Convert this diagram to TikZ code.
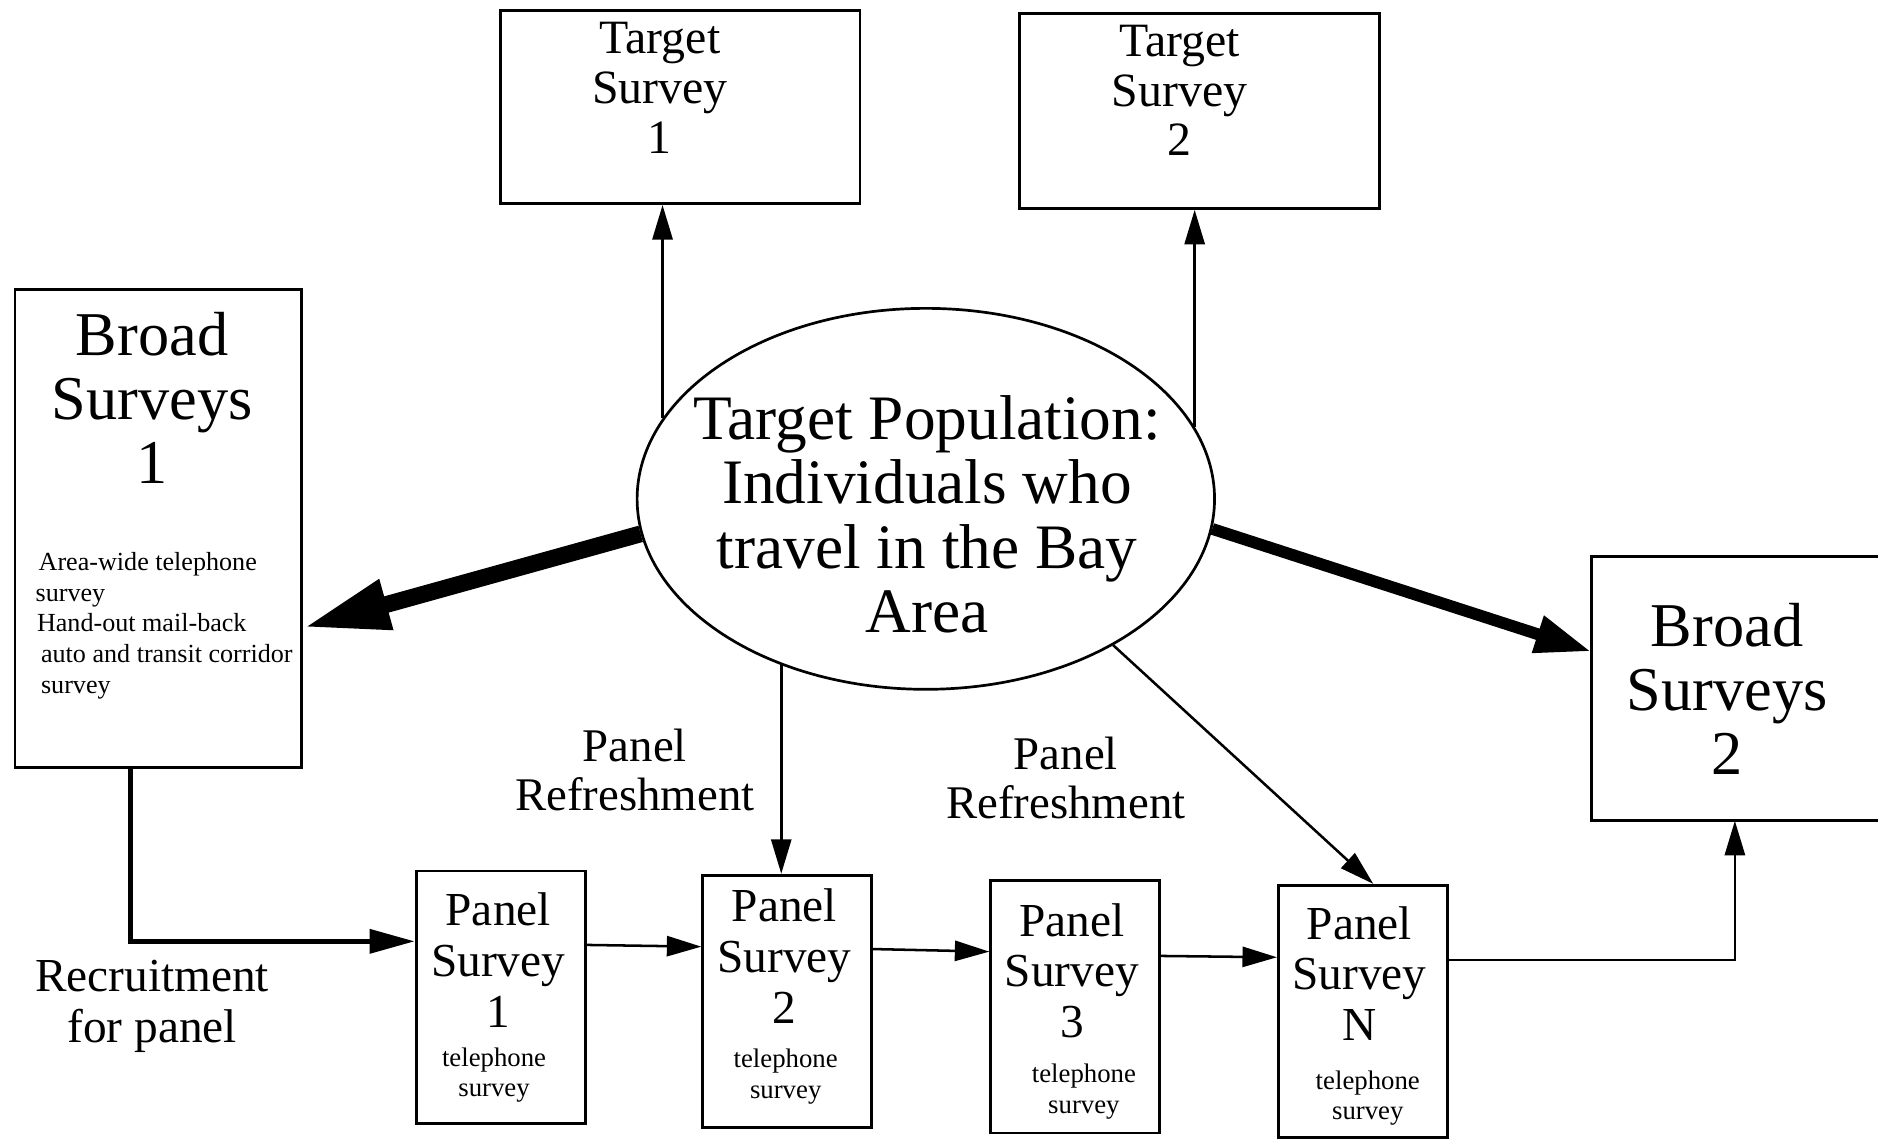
\documentclass[tikz,border=0pt]{standalone}
\usepackage{fontspec}
\setmainfont{Liberation Serif}
\usetikzlibrary{arrows.meta,shapes.geometric,calc}

\newcommand{\fsz}[2]{\fontsize{#1}{#2}\selectfont}

% text nodes are placed by the baseline of their last line
\tikzset{
  box/.style={draw, line width=1.7pt, inner sep=0pt},
  panelbox/.style={box, minimum width=3.525cm, minimum height=5.2625cm},
  txt/.style={inner sep=0pt, align=center, anchor=base},
  bigtxt/.style={txt, font=\fsz{37.6pt}{38.2pt}},
  broadtxt/.style={txt, font=\fsz{37pt}{38pt}},
  midtxt/.style={txt, font=\fsz{28.4pt}{29.5pt}},
  paneltxt/.style={txt, font=\fsz{28.1pt}{30.2pt}},
  smalltxt/.style={txt, font=\fsz{15.9pt}{18.1pt}},
  notetxt/.style={inner sep=0pt, align=left, anchor=base west, font=\fsz{15.5pt}{18.2pt}},
  sidetxt/.style={txt, font=\fsz{27.8pt}{29pt}},
  conn/.style={line width=1.5pt, -{Triangle[length=0.72cm, width=0.42cm]}},
  heavyL/.style={line width=10pt, -{Triangle[length=1.8cm, width=1.0cm]}},
  heavyR/.style={line width=7pt, -{Triangle[length=1.175cm, width=0.75cm]}},
  recruit/.style={line width=3pt, -{Triangle[length=0.94cm, width=0.49cm]}},
}

\begin{document}
\begin{tikzpicture}[x=0.025cm, y=-0.025cm]
\useasboundingbox (0,0) rectangle (1568,951);
\fill[white] (0,0) rectangle (1568,951);

% central population ellipse
\node[ellipse, draw, line width=1.6pt, inner sep=0pt,
      minimum width=12.05cm, minimum height=7.95cm] (pop) at (773,416.5) {};
\node[bigtxt] (popt) at (774,528) {Target Population:\\Individuals who\\travel in the Bay\\Area};

% target surveys
\node[box, minimum width=7.5cm, minimum height=4.025cm] (ts1) at (568,89.5) {};
\node[midtxt] (ts1t) at (551,128) {Target\\Survey\\1};
\node[box, minimum width=7.525cm, minimum height=4.075cm] (ts2) at (1001.5,92.5) {};
\node[midtxt] (ts2t) at (985,130) {Target\\Survey\\2};

% broad surveys
\node[box, minimum width=5.9875cm, minimum height=9.975cm] (bs1) at (132.25,441.5) {};
\node[broadtxt] (bs1t) at (127,403.5) {Broad\\Surveys\\1};
\node[notetxt] (bs1s) at (29.5,578.7) {\hspace*{1.8pt}Area-wide telephone\\survey\\\hspace*{0.8pt}Hand-out mail-back\\\hspace*{3.2pt}auto and transit corridor\\\hspace*{3.2pt}survey};

\node[inner sep=0pt, minimum width=5.975cm, minimum height=5.5cm] (bs2) at (1448.5,575) {};
\draw[line width=1.7pt] (bs2.north east) -- (bs2.north west) -- (bs2.south west) -- (bs2.south east);
\node[broadtxt] (bs2t) at (1442,647) {Broad\\Surveys\\2};

% panel surveys
\node[panelbox] (ps1) at (418,832.45) {};
\node[paneltxt] (ps1t) at (416,858) {Panel\\Survey\\1};
\node[smalltxt] (ps1s) at (412.5,915.7) {telephone\\survey};

\node[panelbox] (ps2) at (657.3,836) {};
\node[paneltxt] (ps2t) at (655,854.4) {Panel\\Survey\\2};
\node[smalltxt] (ps2s) at (656,917) {telephone\\survey};

\node[panelbox] (ps3) at (897.75,840.75) {};
\node[paneltxt] (ps3t) at (895,866.5) {Panel\\Survey\\3};
\node[smalltxt] (ps3s) at (905,929.5) {telephone\\survey};

\node[panelbox] (psn) at (1137.9,844.45) {};
\node[paneltxt] (psnt) at (1135,869) {Panel\\Survey\\N};
\node[smalltxt] (psns) at (1142,935) {telephone\\survey};

% free labels
\node[sidetxt] (ref1) at (530,676.5) {Panel\\Refreshment};
\node[sidetxt] (ref2) at (890,683) {Panel\\Refreshment};
\node[paneltxt] (recr) at (127,870.5) {Recruitment\\for panel};

% connectors
\draw[conn] (pop.163.3) -- (pop.163.3 |- ts1.south);
\draw[conn] (pop.15) -- (pop.15 |- ts2.south);
\draw[heavyL] (pop.187.7) -- ($(bs1.east)+(0,82.5)$);
\draw[heavyR] (pop.354.8) -- ($(bs2.west)+(0,-31)$);
\draw[conn] (pop.229.1) -- (pop.229.1 |- ps2.north);
\draw[conn] (pop.322.9) -- ($(psn.north)+(8.7,0)$);

\draw[recruit] ($(bs1.south)+(-23.25,0)$) |- ($(ps1.west)+(0,-46.5)$);
\draw[conn] ($(ps1.east)+(0,-43.5)$) -- ($(ps2.west)+(0,-45.6)$);
\draw[conn] ($(ps2.east)+(0,-43.6)$) -- ($(ps3.west)+(0,-46.2)$);
\draw[conn] ($(ps3.east)+(0,-42.6)$) -- ($(psn.west)+(0,-45.2)$);
\draw[conn] ($(psn.east)+(0,-43)$) -| (bs2.south);
\end{tikzpicture}
\end{document}
